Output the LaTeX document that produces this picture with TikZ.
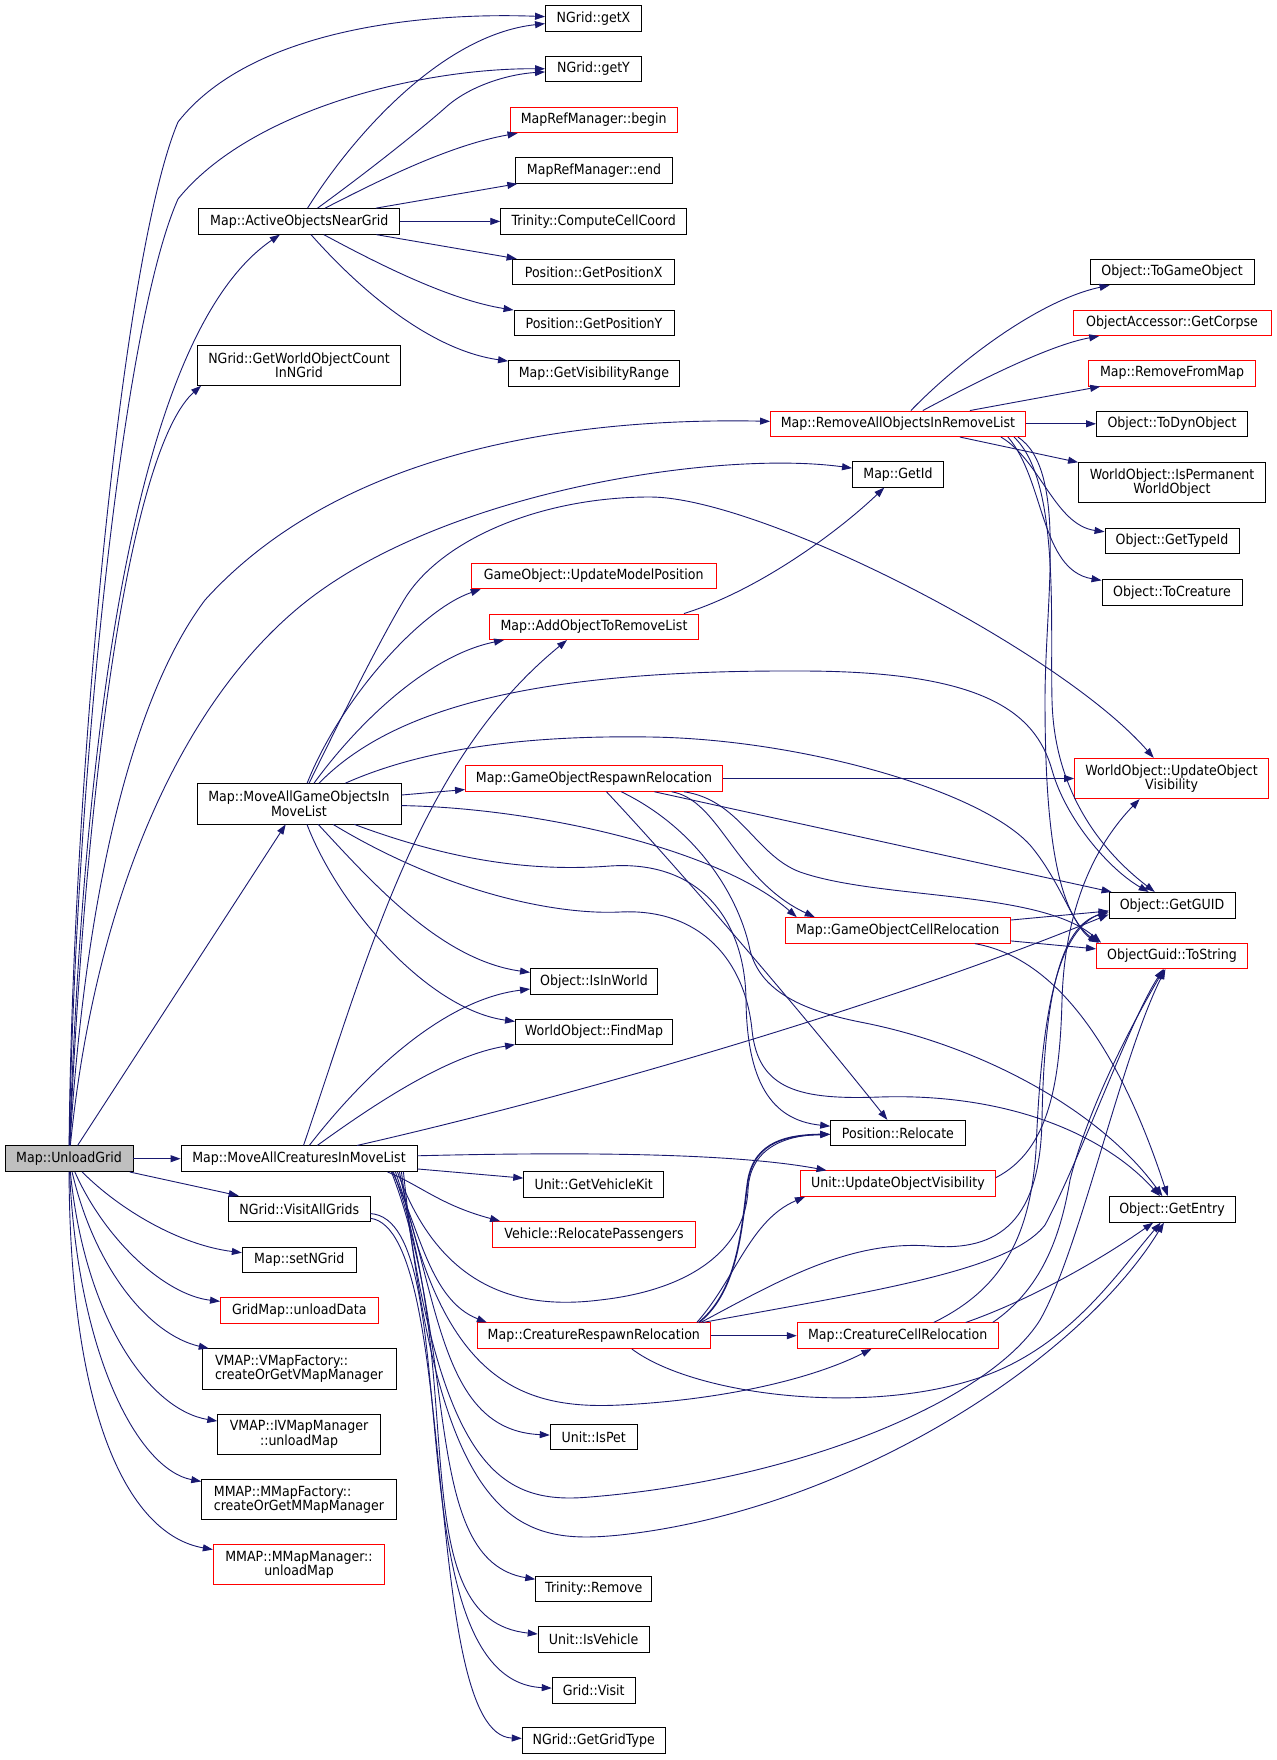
\documentclass[tikz,border=0pt]{standalone}
\usepackage{fontspec}
\newfontfamily\nodefont{DejaVu Sans}[FakeStretch=0.9]
\usetikzlibrary{arrows.meta}
\definecolor{edgecol}{HTML}{191970}
\definecolor{ugfill}{HTML}{BFBFBF}
\definecolor{boxred}{HTML}{FF0000}
\begin{document}
\begin{tikzpicture}[x=1pt,y=-1pt,
  box/.style={draw=black, line width=0.9pt, fill=white, text=black, inner xsep=3pt, inner ysep=0pt,
    minimum height=25.6pt, font=\nodefont\fontsize{14pt}{14.5pt}\selectfont},
  rbox/.style={box, draw=boxred},
  two/.style={minimum height=40.3pt, align=center},
  twol/.style={minimum height=40.3pt, align=left},
  e/.style={draw=edgecol, line width=0.9pt, -{Triangle[length=10pt,width=7pt]}}]
\fill[white] (0,0) rectangle (1276,1760);
\useasboundingbox (0,0) rectangle (1276,1760);

% column 1
\node[box, fill=ugfill, minimum width=128pt] (UG) at (69,1158.7) {Map::UnloadGrid};
% column 2
\node[box, minimum width=201pt] (AONG) at (299.3,221.4) {Map::ActiveObjectsNearGrid};
\node[box, two, minimum width=203pt] (GWOC) at (299,365.2) {NGrid::GetWorldObjectCount\\InNGrid};
\node[box, two, minimum width=204pt] (MAGO) at (299,803.8) {Map::MoveAllGameObjectsIn\\MoveList};
\node[box, minimum width=236pt] (MACML) at (299,1158.7) {Map::MoveAllCreaturesInMoveList};
\node[box, minimum width=141.5pt] (VAG) at (299.3,1209) {NGrid::VisitAllGrids};
\node[box, minimum width=114pt] (SETN) at (299.3,1259.8) {Map::setNGrid};
\node[rbox, minimum width=157.6pt] (GMU) at (299.3,1310.4) {GridMap::unloadData};
\node[box, twol, minimum width=194pt] (VMF) at (299,1369) {VMAP::VMapFactory::\\createOrGetVMapManager};
\node[box, two, minimum width=162.5pt] (IVM) at (299,1434.4) {VMAP::IVMapManager\\::unloadMap};
\node[box, twol, minimum width=194.6pt] (MMF) at (299,1499.7) {MMAP::MMapFactory::\\createOrGetMMapManager};
\node[rbox, two, minimum width=171.4pt] (MMM) at (299,1564.6) {MMAP::MMapManager::\\unloadMap};
% column 3
\node[box, minimum width=96pt] (GETX) at (593.5,18.4) {NGrid::getX};
\node[box, minimum width=96pt] (GETY) at (593.5,69.1) {NGrid::getY};
\node[rbox, minimum width=167pt] (MRB) at (593.7,120) {MapRefManager::begin};
\node[box, minimum width=157pt] (MRE) at (594,170.5) {MapRefManager::end};
\node[box, minimum width=186pt] (CCC) at (593.7,221.4) {Trinity::ComputeCellCoord};
\node[box, minimum width=161.6pt] (GPX) at (593.7,272) {Position::GetPositionX};
\node[box, minimum width=160pt] (GPY) at (594,322.8) {Position::GetPositionY};
\node[box, minimum width=171pt] (GVR) at (594,373.3) {Map::GetVisibilityRange};
\node[rbox, minimum width=245pt] (GOUMP) at (593.7,576) {GameObject::UpdateModelPosition};
\node[rbox, minimum width=209pt] (AOTRL) at (594,626.8) {Map::AddObjectToRemoveList};
\node[rbox, minimum width=257pt] (GORR) at (594,778.5) {Map::GameObjectRespawnRelocation};
\node[box, minimum width=127pt] (ISW) at (594,981.2) {Object::IsInWorld};
\node[box, minimum width=157pt] (FM) at (594,1032) {WorldObject::FindMap};
\node[box, minimum width=140pt] (GVK) at (593.7,1184.2) {Unit::GetVehicleKit};
\node[rbox, minimum width=203pt] (VRP) at (594,1234.3) {Vehicle::RelocatePassengers};
\node[rbox, minimum width=233pt] (CRR) at (593.8,1335.7) {Map::CreatureRespawnRelocation};
\node[box, minimum width=87pt] (ISPET) at (593.7,1437.1) {Unit::IsPet};
\node[box, minimum width=116pt] (TREM) at (593.7,1589) {Trinity::Remove};
\node[box, minimum width=111pt] (ISV) at (593.7,1639.7) {Unit::IsVehicle};
\node[box, minimum width=83pt] (GV) at (593.7,1690.2) {Grid::Visit};
\node[box, minimum width=143pt] (GGT) at (593.7,1740.7) {NGrid::GetGridType};
% column 4
\node[rbox, minimum width=255pt] (RAOIRL) at (898,423.8) {Map::RemoveAllObjectsInRemoveList};
\node[box, minimum width=91pt] (GETID) at (898,474.4) {Map::GetId};
\node[rbox, minimum width=225pt] (GOCR) at (897.7,930.4) {Map::GameObjectCellRelocation};
\node[box, minimum width=134.5pt] (REL) at (897.9,1133.1) {Position::Relocate};
\node[rbox, minimum width=195pt] (UUOV) at (897.9,1183.6) {Unit::UpdateObjectVisibility};
\node[rbox, minimum width=201pt] (CCR) at (897.7,1335.7) {Map::CreatureCellRelocation};
% column 5
\node[box, minimum width=164pt] (TGO) at (1172,272) {Object::ToGameObject};
\node[rbox, minimum width=198pt] (GC) at (1172,322.8) {ObjectAccessor::GetCorpse};
\node[rbox, minimum width=167pt] (RFM) at (1172,373.3) {Map::RemoveFromMap};
\node[box, minimum width=151pt] (TDO) at (1172,423.8) {Object::ToDynObject};
\node[box, two, minimum width=187pt] (IPWO) at (1172,482.4) {WorldObject::IsPermanent\\WorldObject};
\node[box, minimum width=134pt] (GTID) at (1172,541) {Object::GetTypeId};
\node[box, minimum width=140pt] (TCR) at (1172,592.2) {Object::ToCreature};
\node[rbox, two, minimum width=194pt] (WOUOV) at (1171.6,778.5) {WorldObject::UpdateObject\\Visibility};
\node[box, minimum width=126pt] (GUID) at (1172,905.2) {Object::GetGUID};
\node[rbox, minimum width=151pt] (TOS) at (1172,955.9) {ObjectGuid::ToString};
\node[box, minimum width=126pt] (GENT) at (1172,1209.4) {Object::GetEntry};

% ---- edges from Map::UnloadGrid
\draw[e] (UG) .. controls (72,800) and (120,260) .. (178,122) .. controls (250,30) and (420,12) .. (GETX);
\draw[e] (UG) .. controls (75,800) and (120,330) .. (178,199) .. controls (250,110) and (420,68) .. (GETY);
\draw[e] (UG) .. controls (85,700) and (140,330) .. (AONG);
\draw[e] (UG) .. controls (90,700) and (140,440) .. ([xshift=4pt]GWOC.south west);
\draw[e] (UG) .. controls (85,900) and (130,700) .. (205,600) .. controls (350,440) and (600,418) .. (RAOIRL);
\draw[e] (UG) .. controls (95,900) and (180,700) .. (308,600) .. controls (450,490) and (720,450) .. (GETID);
\draw[e] (UG) -- (MAGO);
\draw[e] (UG) -- (MACML);
\draw[e] (UG) -- (VAG);
\draw[e] (UG) .. controls (120,1210) and (180,1245) .. (SETN);
\draw[e] (UG) .. controls (105,1240) and (165,1295) .. (GMU);
\draw[e] (UG) .. controls (95,1270) and (150,1335) .. (VMF);
\draw[e] (UG) .. controls (85,1320) and (150,1410) .. (IVM);
\draw[e] (UG) .. controls (78,1360) and (140,1470) .. (MMF);
\draw[e] (UG) .. controls (70,1420) and (130,1535) .. (MMM);

% ---- edges from Map::ActiveObjectsNearGrid
\draw[e] (AONG) .. controls (350,140) and (440,35) .. (GETX);
\draw[e] (AONG) .. controls (370,170) and (420,130) .. (445,108) .. controls (470,85) and (510,74) .. (GETY);
\draw[e] (AONG) .. controls (380,180) and (450,145) .. (MRB);
\draw[e] (AONG) -- (MRE);
\draw[e] (AONG) -- (CCC);
\draw[e] (AONG) -- (GPX);
\draw[e] (AONG) .. controls (380,265) and (450,300) .. (GPY);
\draw[e] (AONG) .. controls (360,290) and (430,350) .. (GVR);

% ---- edges from Map::MoveAllGameObjectsInMoveList
\draw[e] (MAGO) .. controls (340,700) and (420,610) .. ([xshift=10pt]GOUMP.south west);
\draw[e] (MAGO) .. controls (360,720) and (430,655) .. ([xshift=15pt]AOTRL.south west);
\draw[e] (MAGO) .. controls (340,720) and (380,640) .. (404,600) .. controls (440,540) and (540,497) .. (650,497) .. controls (760,497) and (1060,650) .. (WOUOV);
\draw[e] (MAGO) .. controls (400,700) and (560,670) .. (800,671) .. controls (980,671) and (1035,710) .. (1052,770) .. controls (1066,820) and (1110,870) .. (GUID);
\draw[e] (MAGO) .. controls (420,750) and (520,735) .. (650,737) .. controls (800,739) and (980,790) .. (1030,845) .. controls (1060,880) and (1075,930) .. ([xshift=3pt]TOS.north west);
\draw[e] (MAGO) -- (GORR);
\draw[e] (MAGO) .. controls (540,808) and (720,850) .. ([xshift=12pt]GOCR.north west);
\draw[e] (MAGO) .. controls (370,880) and (440,960) .. (ISW);
\draw[e] (MAGO) .. controls (340,910) and (430,1010) .. (FM);
\draw[e] (MAGO) .. controls (450,860) and (530,872) .. (610,866) .. controls (700,860) and (745,920) .. (746,1000) .. controls (747,1080) and (770,1120) .. (REL);
\draw[e] (MAGO) .. controls (450,895) and (560,915) .. (620,912) .. controls (700,908) and (745,960) .. (752,1030) .. controls (758,1090) and (800,1100) .. (880,1097) .. controls (1000,1093) and (1100,1130) .. (GENT);

% ---- edges from Map::GameObjectRespawnRelocation
\draw[e] (GORR) -- (WOUOV);
\draw[e] (GORR) -- (GUID);
\draw[e] (GORR) .. controls (740,800) and (755,855) .. (800,872) .. controls (880,900) and (1040,890) .. ([xshift=5pt]TOS.north west);
\draw[e] (GORR) .. controls (720,800) and (735,880) .. ([xshift=30pt]GOCR.north west);
\draw[e] (GORR) .. controls (680,870) and (800,1010) .. (REL);
\draw[e] (GORR) .. controls (700,830) and (740,900) .. (750,950) .. controls (760,990) and (800,1010) .. (860,1022) .. controls (980,1045) and (1100,1110) .. (GENT);

% ---- edges from Map::GameObjectCellRelocation
\draw[e] (GOCR) -- (GUID);
\draw[e] (GOCR) -- (TOS);
\draw[e] (GOCR) .. controls (1070,960) and (1130,1080) .. (GENT);

% ---- edges from Map::RemoveAllObjectsInRemoveList
\draw[e] (RAOIRL) .. controls (960,360) and (1040,300) .. (TGO);
\draw[e] (RAOIRL) .. controls (980,380) and (1050,345) .. (GC);
\draw[e] (RAOIRL) -- (RFM);
\draw[e] (RAOIRL) -- (TDO);
\draw[e] (RAOIRL) -- (IPWO);
\draw[e] ([xshift=-25pt]RAOIRL.south east) .. controls (1040,460) and (1055,525) .. (GTID);
\draw[e] ([xshift=-18pt]RAOIRL.south east) .. controls (1045,480) and (1040,570) .. (TCR);
\draw[e] ([xshift=-12pt]RAOIRL.south east) .. controls (1060,480) and (1050,620) .. (1052,700) .. controls (1054,790) and (1100,850) .. (GUID);
\draw[e] ([xshift=-8pt]RAOIRL.south east) .. controls (1068,470) and (1045,600) .. (1045,700) .. controls (1045,820) and (1055,910) .. ([xshift=2pt]TOS.north west);

% ---- edge from Map::AddObjectToRemoveList
\draw[e] ([xshift=-15pt]AOTRL.north east) .. controls (760,590) and (840,530) .. (GETID);

% ---- edges from Map::MoveAllCreaturesInMoveList
\draw[e] (MACML) .. controls (370,950) and (420,760) .. ([xshift=-27pt]AOTRL.south);
\draw[e] (MACML) .. controls (360,1080) and (440,1000) .. (ISW);
\draw[e] (MACML) .. controls (380,1100) and (450,1055) .. (FM);
\draw[e] (MACML) .. controls (600,1090) and (900,1000) .. ([yshift=4pt]GUID.south west);
\draw[e] (MACML) .. controls (650,1150) and (760,1158) .. (UUOV);
\draw[e] (MACML) -- (GVK);
\draw[e] ([xshift=-30pt]MACML.south east) .. controls (420,1185) and (440,1205) .. ([xshift=8pt]VRP.north west);
\draw[e] ([xshift=-25pt]MACML.south east) .. controls (420,1230) and (430,1300) .. ([xshift=10pt]CRR.north west);
\draw[e] ([xshift=-22pt]MACML.south east) .. controls (440,1300) and (440,1430) .. (ISPET);
\draw[e] ([xshift=-20pt]MACML.south east) .. controls (440,1290) and (520,1310) .. (600,1300) .. controls (690,1290) and (745,1250) .. (748,1190) .. controls (750,1145) and (790,1135) .. (REL);
\draw[e] ([xshift=-18pt]MACML.south east) .. controls (440,1380) and (520,1410) .. (620,1405) .. controls (720,1400) and (810,1380) .. (CCR);
\draw[e] ([xshift=-16pt]MACML.south east) .. controls (440,1470) and (500,1505) .. (590,1497) .. controls (800,1480) and (990,1400) .. (1040,1320) .. controls (1080,1250) and (1120,1060) .. (TOS);
\draw[e] ([xshift=-14pt]MACML.south east) .. controls (440,1530) and (520,1545) .. (620,1535) .. controls (850,1510) and (1080,1360) .. (GENT);
\draw[e] ([xshift=-26pt]MACML.south east) .. controls (460,1350) and (420,1560) .. (TREM);
\draw[e] ([xshift=-24pt]MACML.south east) .. controls (470,1380) and (400,1620) .. (ISV);

% ---- edges from NGrid::VisitAllGrids
\draw[e] (VAG) .. controls (470,1220) and (390,1680) .. (GV);
\draw[e] (VAG) .. controls (460,1230) and (420,1735) .. (GGT);

% ---- edges from Map::CreatureRespawnRelocation
\draw[e] (CRR) -- (CCR);
\draw[e, line width=1.6pt] ([xshift=-12pt]CRR.north east) .. controls (740,1290) and (742,1220) .. (748,1180) .. controls (755,1140) and (790,1135) .. (REL);
\draw[e] ([xshift=-14pt]CRR.north east) .. controls (735,1280) and (750,1220) .. ([xshift=5pt]UUOV.south west);
\draw[e] ([xshift=-10pt]CRR.north east) .. controls (780,1280) and (850,1240) .. (930,1246) .. controls (1000,1252) and (1040,1220) .. (1042,1120) .. controls (1044,1000) and (1060,925) .. ([yshift=6pt]GUID.south west);
\draw[e] ([xshift=-8pt]CRR.north east) .. controls (880,1290) and (1010,1270) .. (1045,1225) .. controls (1080,1160) and (1130,1020) .. (TOS);
\draw[e] ([xshift=38pt]CRR.south) .. controls (700,1400) and (900,1420) .. (1010,1365) .. controls (1080,1330) and (1120,1270) .. (GENT);

% ---- edges from Map::CreatureCellRelocation
\draw[e] ([xshift=36pt]CCR.north) .. controls (1000,1290) and (1030,1240) .. (1036,1150) .. controls (1042,1000) and (1060,930) .. ([yshift=8pt]GUID.south west);
\draw[e] ([xshift=-6pt]CCR.north east) .. controls (1040,1290) and (1060,1240) .. (1070,1180) .. controls (1090,1100) and (1140,1010) .. (TOS);
\draw[e] ([xshift=68pt]CCR.north) .. controls (1030,1300) and (1100,1260) .. (GENT);

% ---- edge from Unit::UpdateObjectVisibility
\draw[e] ([yshift=6pt]UUOV.east) .. controls (1050,1150) and (1060,1080) .. (1062,1000) .. controls (1065,900) and (1100,840) .. ([xshift=-32pt]WOUOV.south);
\end{tikzpicture}
\end{document}
